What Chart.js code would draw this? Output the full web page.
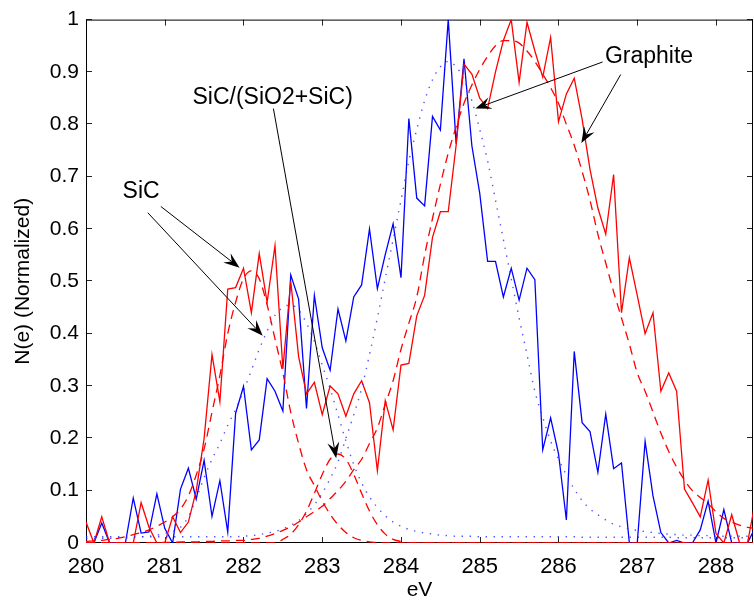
<!DOCTYPE html>
<html lang="en">
<head>
<meta charset="UTF-8">
<title>C1s spectra</title>
<script src="https://cdn.jsdelivr.net/npm/chart.js"></script>
<style>
  html, body { margin: 0; padding: 0; background: #fff; }
  #wrap { width: 754px; height: 605px; }
</style>
</head>
<body>
<div id="wrap"><canvas id="spectrumChart" width="754" height="605"></canvas></div>
<script>
// binding energy grid (eV), 0.1 eV steps
const energy = [
  280.0, 280.1, 280.2, 280.3, 280.4, 280.5, 280.6, 280.7, 280.8, 280.9,
  281.0, 281.1, 281.2, 281.3, 281.4, 281.5, 281.6, 281.7, 281.8, 281.9,
  282.0, 282.1, 282.2, 282.3, 282.4, 282.5, 282.6, 282.7, 282.8, 282.9,
  283.0, 283.1, 283.2, 283.3, 283.4, 283.5, 283.6, 283.7, 283.8, 283.9,
  284.0, 284.1, 284.2, 284.3, 284.4, 284.5, 284.6, 284.7, 284.8, 284.9,
  285.0, 285.1, 285.2, 285.3, 285.4, 285.5, 285.6, 285.7, 285.8, 285.9,
  286.0, 286.1, 286.2, 286.3, 286.4, 286.5, 286.6, 286.7, 286.8, 286.9,
  287.0, 287.1, 287.2, 287.3, 287.4, 287.5, 287.6, 287.7, 287.8, 287.9,
  288.0, 288.1, 288.2, 288.3, 288.4, 288.5
];

// measured spectra (normalized)
const redMeasured = [
  0.04, 0, 0.05, 0, 0, 0, 0, 0.077, 0.03, 0,
  0, 0.05, 0.02, 0.04, 0.10, 0.20, 0.36, 0.27, 0.485, 0.488,
  0.525, 0.44, 0.553, 0.46, 0.568, 0.333, 0.50, 0.356, 0.285, 0.307,
  0.245, 0.30, 0.285, 0.242, 0.285, 0.31, 0.268, 0.138, 0.272, 0.216,
  0.34, 0.343, 0.434, 0.473, 0.584, 0.633, 0.633, 0.76, 0.915, 0.896,
  0.85, 0.83, 0.90, 0.96, 1.0, 0.88, 0.995, 0.94, 0.89, 0.966,
  0.805, 0.858, 0.888, 0.81, 0.714, 0.64, 0.59, 0.704, 0.44, 0.545,
  0.473, 0.40, 0.44, 0.29, 0.325, 0.29, 0.103, 0.077, 0.05, 0.12,
  0.018, 0, 0.054, 0, 0, 0.08
];
const blueMeasured = [
  0, 0, 0.038, 0, 0, 0, 0.086, 0.019, 0.021, 0.094,
  0.028, 0, 0.103, 0.143, 0.084, 0.158, 0.051, 0.119, 0.021, 0.248,
  0.299, 0.178, 0.197, 0.314, 0.29, 0.252, 0.512, 0.466, 0.257, 0.473,
  0.373, 0.33, 0.447, 0.386, 0.47, 0.493, 0.60, 0.486, 0.551, 0.61,
  0.507, 0.811, 0.659, 0.644, 0.815, 0.789, 1.0, 0.763, 0.925, 0.759,
  0.668, 0.538, 0.538, 0.47, 0.525, 0.464, 0.525, 0.503, 0.178, 0.239,
  0.171, 0.044, 0.366, 0.23, 0.213, 0.135, 0.246, 0.142, 0.153, 0,
  0, 0.194, 0.09, 0.02, 0, 0.005, 0, 0, 0.025, 0.08,
  0, 0.064, 0, 0, 0, 0.03
];

// fitted components, red sample (dashed)
const redFitSiC = [
  0.003, 0.004, 0.005, 0.007, 0.009, 0.012, 0.016, 0.02, 0.025, 0.032,
  0.04, 0.05, 0.065, 0.09, 0.13, 0.18, 0.25, 0.32, 0.40, 0.46,
  0.505, 0.52, 0.505, 0.455, 0.39, 0.325, 0.25, 0.19, 0.14, 0.11,
  0.08, 0.055, 0.035, 0.02, 0.01, 0.005, 0.002, 0.001, 0, 0,
  0, 0, 0, 0, 0, 0, 0, 0, 0, 0,
  0, 0, 0, 0, 0, 0, 0, 0, 0, 0,
  0, 0, 0, 0, 0, 0, 0, 0, 0, 0,
  0, 0, 0, 0, 0, 0, 0, 0, 0, 0,
  0, 0, 0, 0, 0, 0
];
const redFitMixed = [
  0, 0, 0, 0, 0, 0, 0, 0, 0, 0,
  0, 0, 0, 0, 0, 0, 0, 0, 0, 0,
  0, 0, 0, 0, 0, 0.007, 0.017, 0.035, 0.061, 0.095,
  0.131, 0.16, 0.17, 0.16, 0.131, 0.095, 0.061, 0.035, 0.017, 0.007,
  0.003, 0, 0, 0, 0, 0, 0, 0, 0, 0,
  0, 0, 0, 0, 0, 0, 0, 0, 0, 0,
  0, 0, 0, 0, 0, 0, 0, 0, 0, 0,
  0, 0, 0, 0, 0, 0, 0, 0, 0, 0,
  0, 0, 0, 0, 0, 0
];
const redFitGraphite = [
  0, 0, 0, 0, 0, 0, 0, 0, 0, 0,
  0.001, 0.001, 0.002, 0.002, 0.002, 0.003, 0.003, 0.004, 0.004, 0.005,
  0.005, 0.007, 0.009, 0.013, 0.018, 0.024, 0.031, 0.04, 0.05, 0.06,
  0.07, 0.085, 0.10, 0.118, 0.14, 0.16, 0.19, 0.22, 0.265, 0.31,
  0.37, 0.42, 0.47, 0.55, 0.62, 0.685, 0.745, 0.795, 0.84, 0.875,
  0.905, 0.93, 0.95, 0.96, 0.96, 0.955, 0.94, 0.92, 0.896, 0.87,
  0.84, 0.80, 0.76, 0.71, 0.655, 0.59, 0.535, 0.48, 0.43, 0.38,
  0.325, 0.29, 0.25, 0.21, 0.175, 0.145, 0.12, 0.10, 0.087, 0.075,
  0.06, 0.047, 0.04, 0.034, 0.03, 0.028
];

// fitted components, blue sample (dotted)
const blueFitSiC = [
  0.008, 0.008, 0.009, 0.009, 0.010, 0.010, 0.011, 0.012, 0.013, 0.015,
  0.018, 0.022, 0.03, 0.05, 0.085, 0.125, 0.16, 0.19, 0.225, 0.255,
  0.29, 0.33, 0.37, 0.405, 0.435, 0.45, 0.455, 0.445, 0.42, 0.385,
  0.34, 0.295, 0.245, 0.195, 0.15, 0.115, 0.088, 0.068, 0.052, 0.04,
  0.032, 0.026, 0.022, 0.019, 0.017, 0.015, 0.014, 0.013, 0.013, 0.013,
  0.012, 0.012, 0.012, 0.012, 0.012, 0.012, 0.012, 0.012, 0.012, 0.012,
  0.012, 0.012, 0.012, 0.011, 0.011, 0.011, 0.011, 0.011, 0.011, 0.011,
  0.011, 0.011, 0.011, 0.011, 0.011, 0.010, 0.010, 0.010, 0.010, 0.010,
  0.010, 0.010, 0.010, 0.010, 0.010, 0.010
];
const blueFitMain = [
  0.012, 0.012, 0.012, 0.012, 0.012, 0.012, 0.012, 0.012, 0.012, 0.012,
  0.012, 0.012, 0.012, 0.012, 0.012, 0.012, 0.012, 0.012, 0.012, 0.012,
  0.013, 0.014, 0.016, 0.019, 0.022, 0.027, 0.034, 0.043, 0.056, 0.073,
  0.095, 0.123, 0.155, 0.20, 0.245, 0.295, 0.36, 0.43, 0.505, 0.58,
  0.655, 0.73, 0.79, 0.845, 0.885, 0.91, 0.92, 0.91, 0.885, 0.845,
  0.79, 0.73, 0.655, 0.58, 0.505, 0.43, 0.36, 0.29, 0.24, 0.195,
  0.16, 0.13, 0.103, 0.081, 0.065, 0.054, 0.044, 0.036, 0.031, 0.027,
  0.024, 0.022, 0.02, 0.018, 0.017, 0.016, 0.015, 0.015, 0.014, 0.014,
  0.013, 0.013, 0.013, 0.013, 0.013, 0.013
];

// axis ticks
const xTicks = [280, 281, 282, 283, 284, 285, 286, 287, 288];
const yTicks = [0, 0.1, 0.2, 0.3, 0.4, 0.5, 0.6, 0.7, 0.8, 0.9, 1];
const yTickLabels = ['0', '0.1', '0.2', '0.3', '0.4', '0.5', '0.6', '0.7', '0.8', '0.9', '1'];

// text labels and arrows, in data coordinates
const noteTexts = [
  { text: 'SiC', x: 280.70, y: 0.671 },
  { text: 'SiC/(SiO2+SiC)', x: 282.37, y: 0.851 },
  { text: 'Graphite', x: 287.15, y: 0.930 }
];
const noteArrows = [
  { x0: 280.95, y0: 0.643, x1: 281.95, y1: 0.526 },
  { x0: 280.785, y0: 0.631, x1: 282.244, y1: 0.396 },
  { x0: 282.38, y0: 0.830, x1: 283.177, y1: 0.162 },
  { x0: 286.56, y0: 0.919, x1: 284.945, y1: 0.830 },
  { x0: 286.79, y0: 0.895, x1: 286.29, y1: 0.764 }
];

const FONT = '"Liberation Sans", Arial, Helvetica, sans-serif';

function points(values) {
  return energy.map((e, i) => ({ x: e, y: values[i] }));
}

// box + inward ticks, matlab style
const boxAxes = {
  id: 'boxAxes',
  beforeDatasetsDraw(chart) {
    const { ctx, chartArea: a, scales: { x, y } } = chart;
    const len = 6;
    ctx.save();
    ctx.strokeStyle = '#262626';
    ctx.lineWidth = 1;
    ctx.beginPath();
    xTicks.forEach(v => {
      const px = Math.round(x.getPixelForValue(v)) + 0.5;
      ctx.moveTo(px, a.bottom); ctx.lineTo(px, a.bottom - len);
      ctx.moveTo(px, a.top); ctx.lineTo(px, a.top + len);
    });
    yTicks.forEach(v => {
      const py = Math.round(y.getPixelForValue(v)) - 0.5;
      ctx.moveTo(a.left, py); ctx.lineTo(a.left + len, py);
      ctx.moveTo(a.right, py); ctx.lineTo(a.right - len, py);
    });
    ctx.stroke();
    ctx.strokeStyle = '#000';
    ctx.strokeRect(a.left + 0.5, a.top + 0.5, a.right - a.left - 1, a.bottom - a.top - 1);
    ctx.restore();
  }
};

function drawArrow(ctx, x0, y0, x1, y1) {
  const ang = Math.atan2(y1 - y0, x1 - x0);
  const c = Math.cos(ang), s = Math.sin(ang);
  const len = 16, half = 6, notch = 10;
  ctx.beginPath();
  ctx.moveTo(x0, y0);
  ctx.lineTo(x1 - c * notch, y1 - s * notch);
  ctx.stroke();
  const bx = x1 - c * len, by = y1 - s * len;
  ctx.beginPath();
  ctx.moveTo(x1, y1);
  ctx.lineTo(bx - s * half, by + c * half);
  ctx.lineTo(x1 - c * notch, y1 - s * notch);
  ctx.lineTo(bx + s * half, by - c * half);
  ctx.closePath();
  ctx.fill();
}

const notes = {
  id: 'notes',
  afterDatasetsDraw(chart) {
    const { ctx, scales: { x, y } } = chart;
    ctx.save();
    ctx.fillStyle = '#000';
    ctx.strokeStyle = '#000';
    ctx.lineWidth = 1;
    ctx.font = '23px ' + FONT;
    ctx.textAlign = 'center';
    ctx.textBaseline = 'middle';
    noteTexts.forEach(n => ctx.fillText(n.text, x.getPixelForValue(n.x), y.getPixelForValue(n.y)));
    noteArrows.forEach(a => drawArrow(ctx,
      x.getPixelForValue(a.x0), y.getPixelForValue(a.y0),
      x.getPixelForValue(a.x1), y.getPixelForValue(a.y1)));
    ctx.restore();
  }
};

const solid = (label, values, color, order) => ({
  label, data: points(values), borderColor: color, borderWidth: 1.3,
  pointRadius: 0, tension: 0, order
});
const dashed = (label, values, order) => ({
  label, data: points(values), borderColor: '#ff0000', borderWidth: 1.3,
  borderDash: [9, 6], pointRadius: 0, tension: 0.3, cubicInterpolationMode: 'monotone', order
});
const dotted = (label, values, order) => ({
  label, data: points(values), borderColor: 'rgba(40,40,255,0.8)', borderWidth: 1.4,
  borderDash: [1.4, 6.6], pointRadius: 0, tension: 0.3, cubicInterpolationMode: 'monotone', order
});

new Chart(document.getElementById('spectrumChart'), {
  type: 'line',
  data: {
    datasets: [
      solid('blue measured', blueMeasured, '#0000ff', 4),
      solid('red measured', redMeasured, '#ff0000', 3),
      dotted('blue SiC', blueFitSiC, 2),
      dotted('blue main', blueFitMain, 2),
      dashed('red SiC', redFitSiC, 1),
      dashed('red SiC/(SiO2+SiC)', redFitMixed, 1),
      dashed('red graphite', redFitGraphite, 1)
    ]
  },
  options: {
    responsive: false,
    animation: false,
    layout: { padding: { top: 14, right: 1, left: 0, bottom: 0 } },
    plugins: { legend: { display: false }, tooltip: { enabled: false } },
    scales: {
      x: {
        type: 'linear', min: 280, max: 288.47,
        afterBuildTicks: s => { s.ticks = xTicks.map(v => ({ value: v })); },
        afterFit: s => { s.height = 62; },
        grid: { display: false, drawTicks: false },
        border: { display: false },
        ticks: { color: '#000', padding: 11, font: { family: FONT, size: 22 }, maxRotation: 0 },
        title: { display: true, text: 'eV', color: '#000', font: { family: FONT, size: 21 }, padding: { top: 0, bottom: 2 } }
      },
      y: {
        min: 0, max: 1,
        afterBuildTicks: s => { s.ticks = yTicks.map(v => ({ value: v })); },
        afterFit: s => { s.width = 86; },
        grid: { display: false, drawTicks: false },
        border: { display: false },
        ticks: { color: '#000', padding: 7, font: { family: FONT, size: 21 }, callback: (v, i) => yTickLabels[i] },
        title: { display: true, text: 'N(e) (Normalized)', color: '#000', font: { family: FONT, size: 21 }, padding: { top: 11, bottom: 0 } }
      }
    }
  },
  plugins: [boxAxes, notes]
});
</script>
</body>
</html>
